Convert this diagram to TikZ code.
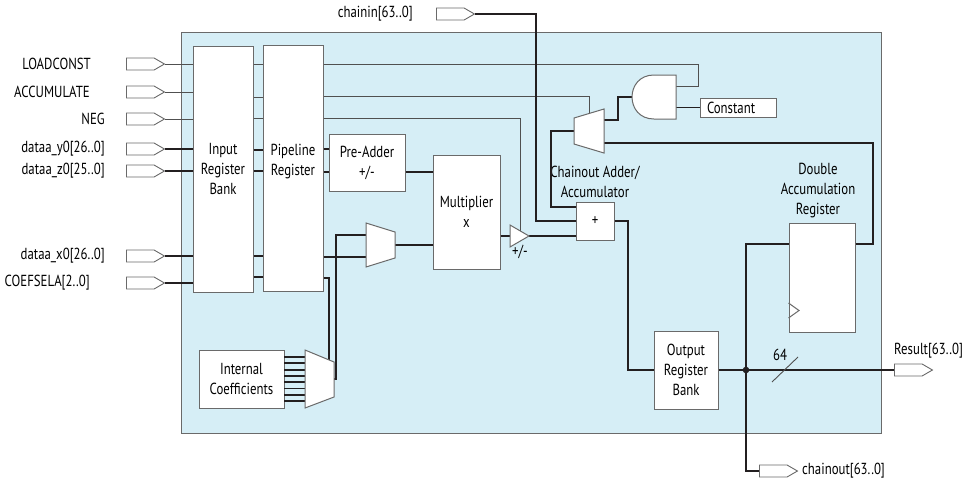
\documentclass[tikz,border=0pt]{standalone}
\usepackage{fontspec}
\setmainfont{PT Sans}[FakeStretch=0.8]
\usetikzlibrary{shapes.symbols}
\definecolor{bgblue}{HTML}{D6EEF6}
\definecolor{edgec}{HTML}{6A6A6A}
\definecolor{thinc}{HTML}{505050}
\definecolor{thickc}{HTML}{231F20}
\begin{document}
\begin{tikzpicture}[x=1pt,y=-1pt,
  font=\fontsize{16}{20}\selectfont,
  blk/.style={draw=edgec, fill=white, line width=1pt, inner sep=0, align=center},
  shapeline/.style={draw=edgec, fill=white, line width=1pt, line join=miter},
  iopin/.style={shape=signal, signal to=east, signal pointer angle=60, draw=edgec, fill=white, line width=0.9pt, minimum width=38, minimum height=12, inner sep=0, anchor=west},
  lbl/.style={inner sep=0, text=black},
  wthin/.style={draw=thinc, line width=0.9pt},
  wthick/.style={draw=thickc, line width=1.8pt},
]
\useasboundingbox (0,0) rectangle (964,483);
% background
\node[draw=edgec, fill=bgblue, line width=1pt, minimum width=700, minimum height=401, inner sep=0] (bg) at (531,232.5) {};

% blocks
\node[blk, minimum width=60, minimum height=246] (inreg) at (223,169) {Input\\Register\\Bank};
\node[blk, minimum width=60, minimum height=246] (pipe) at (293,168) {};
\node[lbl, align=center] (pipetxt) at (293,162) {Pipeline\\Register};
\node[blk, minimum width=76, minimum height=57] (pre) at (367,162.5) {Pre-Adder\\+/-};
\node[blk, minimum width=67, minimum height=114] (mult) at (466.5,212) {Multiplier\\x};
\node[blk, minimum width=38, minimum height=38] (add) at (595,221) {+};
\node[blk, minimum width=76, minimum height=19, text width=62, align=left] (const) at (738,107.5) {Constant};
\node[blk, minimum width=66, minimum height=109] (dacc) at (822,277.5) {};
\node[blk, minimum width=64, minimum height=78] (oreg) at (686,370) {Output\\Register\\Bank};
\node[blk, minimum width=85, minimum height=58] (icoef) at (241.5,379) {Internal\\Coefficients};

\node[lbl, align=center] (caLbl) at (595,182) {Chainout Adder/\\Accumulator};
\node[lbl, align=center] (daLbl) at (818,191) {Double\\Accumulation\\Register};

% pins
\node[iopin] (pLoad) at (126,64) {};
\node[iopin] (pAcc) at (126,92) {};
\node[iopin] (pNeg) at (126,119) {};
\node[iopin] (pY) at (126,149) {};
\node[iopin] (pZ) at (126,171) {};
\node[iopin] (pX) at (126,256) {};
\node[iopin] (pCoef) at (126,283) {};
\node[iopin] (pChain) at (436,14) {};
\node[iopin] (pRes) at (894,370) {};
\node[iopin] (pCout) at (759,471) {};

\node[lbl, anchor=east] (tLoad) at (91,64) {LOADCONST};
\node[lbl, anchor=east] (tAcc) at (90,92) {ACCUMULATE};
\node[lbl, anchor=east] (tNeg) at (105,119) {NEG};
\node[lbl, anchor=east] (tY) at (105,149) {dataa\_y0[26..0]};
\node[lbl, anchor=east] (tZ) at (105,171) {dataa\_z0[25..0]};
\node[lbl, anchor=east] (tX) at (105,256) {dataa\_x0[26..0]};
\node[lbl, anchor=east] (tCoef) at (90,283) {COEFSELA[2..0]};
\node[lbl, anchor=east] (tChain) at (413,14) {chainin[63..0]};
\node[lbl, anchor=west] (tRes) at (894,351) {Result[63..0]};
\node[lbl, anchor=west] (tCout) at (802,471) {chainout[63..0]};

% port coordinates
\coordinate (xmA) at (366,235);
\coordinate (xmB) at (366,257);
\coordinate (xmO) at (395,245);
\coordinate (triIn) at (510,236);
\coordinate (triOut) at (529,236);
\coordinate (triTop) at (520,230.8);
\coordinate (cmO) at (574,131);
\coordinate (cmA) at (604,120);
\coordinate (cmB) at (604,143);
\coordinate (cmS) at (589,113.5);
\coordinate (andO) at (632,97);
\coordinate (andA) at (676,86);
\coordinate (andB) at (676,107.5);
\coordinate (qmO) at (334,379);
\coordinate (qmS) at (329,360);
\coordinate (jdot) at (746,370);

% input wires
\draw[wthin] (pLoad.east) -- (pLoad.east -| inreg.west);
\draw[wthin] (pAcc.east) -- (pAcc.east -| inreg.west);
\draw[wthin] (pNeg.east) -- (pNeg.east -| inreg.west);
\draw[wthick] (pY.east) -- (pY.east -| inreg.west);
\draw[wthick] (pZ.east) -- (pZ.east -| inreg.west);
\draw[wthick] (pX.east) -- (pX.east -| inreg.west);
\draw[wthick] (pCoef.east) -- (pCoef.east -| inreg.west);

% stubs between registers
\draw[wthin] (inreg.east |- 0,64) -- (pipe.west |- 0,64);
\draw[wthin] (inreg.east |- 0,97) -- (pipe.west |- 0,97);
\draw[wthin] (inreg.east |- 0,118) -- (pipe.west |- 0,118);
\draw[wthick] (inreg.east |- 0,150) -- (pipe.west |- 0,150);
\draw[wthick] (inreg.east |- 0,171) -- (pipe.west |- 0,171);
\draw[wthick] (inreg.east |- 0,256) -- (pipe.west |- 0,256);
\draw[wthick] (inreg.east |- 0,277) -- (pipe.west |- 0,277);

% pipeline outputs
\draw[wthin] (pipe.east |- 0,64) -- (698,64) -- (698,86) -- (andA);
\draw[wthin] (pipe.east |- 0,96) -- (cmS |- 0,96) -- (cmS);
\draw[wthin] (pipe.east |- 0,118) -- (triTop |- 0,118) -- (triTop);
\draw[wthick] (pipe.east |- 0,149) -- (pre.west |- 0,149);
\draw[wthick] (pipe.east |- 0,172) -- (pre.west |- 0,172);
\draw[wthick] (pre.east |- 0,172) -- (mult.west |- 0,172);
\draw[wthick] (pipe.east |- 0,257) -- (xmB);
\draw[wthick] (pipe.east |- 0,278) -- (qmS |- 0,278) -- (qmS);
\foreach \i in {0,...,7} {
  \draw[wthick] (284,{357+6.3*\i}) -- (305,{357+6.3*\i});
}
\draw[wthick] (qmO) -- (336,379) -- (336,235) -- (xmA);
\draw[wthick] (xmO) -- (mult.west |- xmO);
\draw[wthick] (mult.east |- triIn) -- (triIn);
\draw[wthick] (triOut) -- (add.west |- triOut);
\draw[wthick] (pChain.east) -- (536,14) -- (536,221) -- (add.west);
\draw[wthick] (cmO) -- (551,131) -- (551,207) -- (add.west |- 0,207);
\draw[wthick] (andO) -- (618,97) -- (618,120) -- (cmA);
\draw[wthick] (const.west) -- (andB);
\draw[wthick] (add.east) -- (628,221) -- (628,370) -- (oreg.west);
\draw[wthick] (oreg.east) -- (pRes.west);
\draw[wthick] (dacc.west |- 0,244) -- (746,244) -- (746,471) -- (pCout.west);
\fill[thickc] (jdot) circle[radius=3.3];
\draw[wthick] (dacc.east |- 0,244) -- (873,244) -- (873,143) -- (cmB);
\draw[wthin] (772,382) -- (798,357);
\node[lbl] (w64) at (780,355) {64};

% gate shapes
\draw[shapeline] (366,223) -- (395,232) -- (395,258) -- (366,267) -- cycle;
\draw[shapeline] (510,225) -- (529,236) -- (510,247) -- cycle;
\node[lbl] (pmLbl) at (520,252) {+/-};
\draw[shapeline] (574,118) -- (604,109) -- (604,153) -- (574,144) -- cycle;
\draw[shapeline] (676,75) -- (654,75) .. controls (624.7,75) and (624.7,119) .. (654,119) -- (676,119) -- cycle;
\draw[shapeline] (305,350) -- (334,362) -- (334,397) -- (305,408) -- cycle;
\draw[draw=edgec, line width=1pt] (dacc.west |- 0,303) -- (799,310.5) -- (dacc.west |- 0,318);
\end{tikzpicture}
\end{document}
